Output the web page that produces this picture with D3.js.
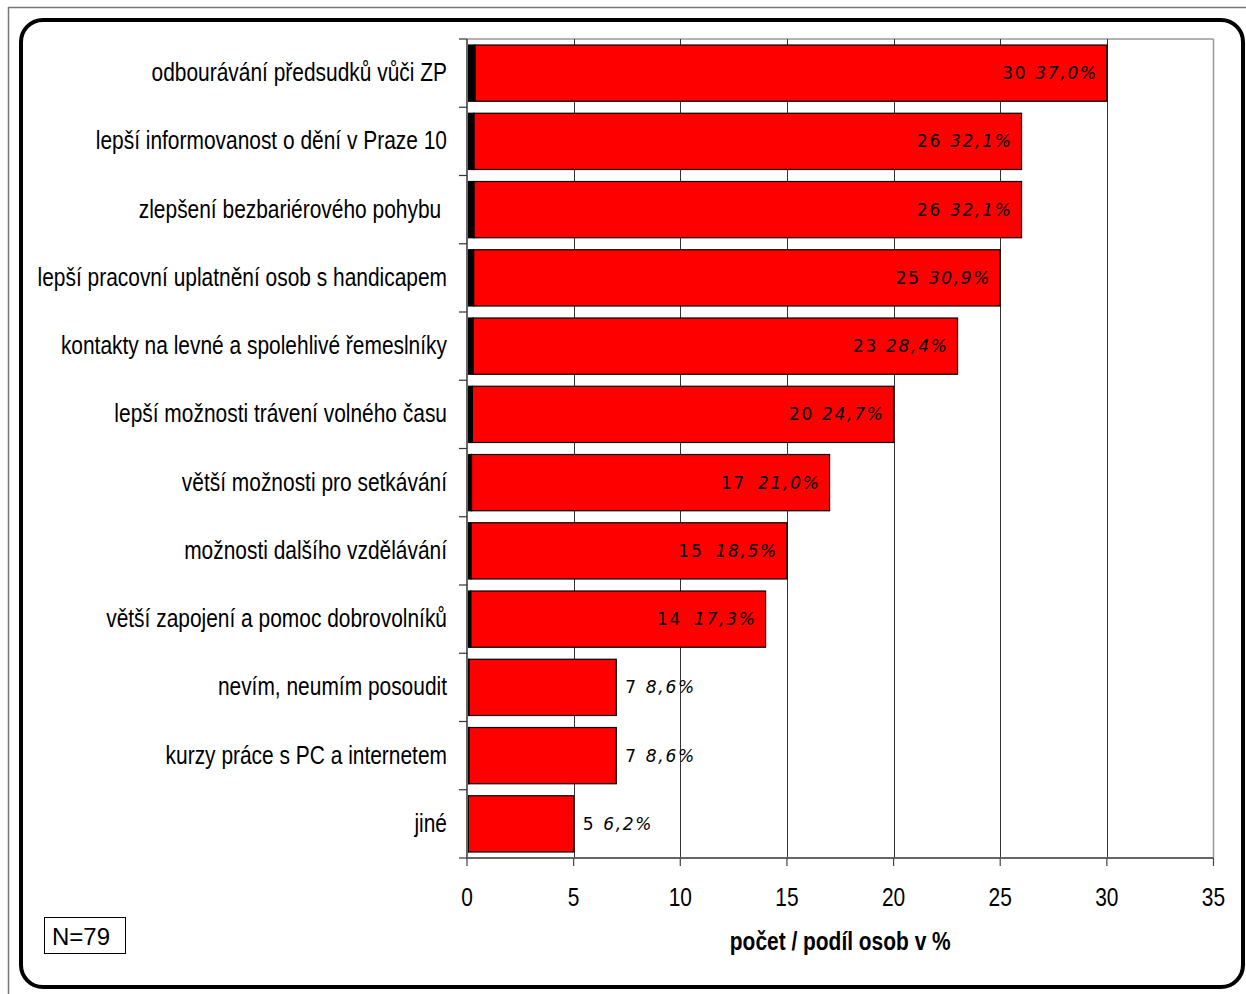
<!DOCTYPE html>
<html><head><meta charset="utf-8">
<script src="https://cdn.jsdelivr.net/npm/d3@7"></script>
<style>
html,body{margin:0;padding:0;background:#fff;}
svg{display:block;}
.cat{font-family:"Liberation Sans Narrow","Arial Narrow","Liberation Sans",sans-serif;font-size:26px;fill:#000;white-space:pre;}
.tick{font-family:"Liberation Sans Narrow","Arial Narrow","Liberation Sans",sans-serif;font-size:26px;fill:#000;}
.title{font-family:"Liberation Sans Narrow","Arial Narrow","Liberation Sans",sans-serif;font-size:26px;font-weight:bold;fill:#000;}
.val{font-family:"DejaVu Sans",Verdana,sans-serif;font-size:17px;fill:#000;letter-spacing:1.7px;}
</style></head>
<body>
<svg id="chart" width="1246" height="994"></svg>
<script>
const categories = [
  "odbourávání předsudků vůči ZP",
  "lepší informovanost o dění v Praze 10",
  "zlepšení bezbariérového pohybu ",
  "lepší pracovní uplatnění osob s handicapem",
  "kontakty na levné a spolehlivé řemeslníky",
  "lepší možnosti trávení volného času",
  "větší možnosti pro setkávání",
  "možnosti dalšího vzdělávání",
  "větší zapojení a pomoc dobrovolníků",
  "nevím, neumím posoudit",
  "kurzy práce s PC a internetem",
  "jiné"
];
const counts = [30, 26, 26, 25, 23, 20, 17, 15, 14, 7, 7, 5];
const percents = [37.0, 32.1, 32.1, 30.9, 28.4, 24.7, 21.0, 18.5, 17.3, 8.6, 8.6, 6.2];
const blackShare = [0.370, 0.321, 0.321, 0.309, 0.284, 0.247, 0.210, 0.185, 0.173, 0.086, 0.086, 0.062];
const xTicks = [0, 5, 10, 15, 20, 25, 30, 35];
const axisTitle = "počet / podíl osob v %";
const noteText = "N=79";

const narrow = 0.805; // horizontal compression to mimic a condensed face

const svg = d3.select("#chart");

// outer thin frame
svg.append("line").attr("x1",8).attr("y1",7.5).attr("x2",1246).attr("y2",7.5).attr("stroke","#777").attr("stroke-width",1.5);
svg.append("line").attr("x1",8.5).attr("y1",7).attr("x2",8.5).attr("y2",994).attr("stroke","#777").attr("stroke-width",1.5);
// rounded frame
svg.append("rect").attr("x",21).attr("y",20).attr("width",1222).attr("height",967).attr("rx",22).attr("ry",22)
  .attr("fill","#fff").attr("stroke","#000").attr("stroke-width",4);

const pLeft = 467, pRight = 1213.5, pTop = 39, pBottom = 858;
const x = d3.scaleLinear().domain([0, 35]).range([pLeft, pRight]);
const y = d3.scaleBand().domain(categories).range([pTop, pBottom]).paddingInner(0.176).paddingOuter(0.088);
const step = y.step();

// plot border (top & right)
svg.append("line").attr("x1",pLeft).attr("x2",pRight).attr("y1",pTop).attr("y2",pTop).attr("stroke","#999").attr("stroke-width",1.5);
svg.append("line").attr("x1",pRight).attr("x2",pRight).attr("y1",pTop).attr("y2",pBottom).attr("stroke","#999").attr("stroke-width",1.5);

// gridlines
svg.append("g").selectAll("line").data(xTicks.filter(t => t > 0 && t < 35)).join("line")
  .attr("x1", d => Math.round(x(d)) + 0.5).attr("x2", d => Math.round(x(d)) + 0.5)
  .attr("y1", pTop).attr("y2", pBottom).attr("stroke","#333").attr("stroke-width",1);

// bars
const g = svg.append("g");
categories.forEach((c, i) => {
  const by = y(c), bh = y.bandwidth();
  g.append("rect").attr("x", x(blackShare[i])).attr("y", by).attr("width", x(counts[i]) - x(blackShare[i])).attr("height", bh)
    .attr("fill","#ff0000").attr("stroke","#000").attr("stroke-width",1.2);
  g.append("rect").attr("x", x(0)).attr("y", by).attr("width", x(blackShare[i]) - x(0)).attr("height", bh)
    .attr("fill","#000").attr("stroke","#000").attr("stroke-width",1.2);
});

// value labels
const fmt = v => v.toFixed(1).replace(".", ",") + "%";
categories.forEach((c, i) => {
  const inside = counts[i] >= 10;
  const cy = y(c) + y.bandwidth() / 2;
  const t = svg.append("text").attr("class","val")
    .attr("x", inside ? x(counts[i]) - 9 : x(counts[i]) + 9)
    .attr("y", cy + 6)
    .attr("text-anchor", inside ? "end" : "start");
  t.append("tspan").text(counts[i]);
  t.append("tspan").attr("font-style","italic").attr("dx", inside && counts[i] < 20 ? 12 : 8).text(fmt(percents[i]));
});

// axes lines
svg.append("line").attr("x1",pLeft).attr("x2",pLeft).attr("y1",pTop).attr("y2",pBottom).attr("stroke","#666").attr("stroke-width",2);
svg.append("line").attr("x1",pLeft - 1).attr("x2",pRight).attr("y1",pBottom).attr("y2",pBottom).attr("stroke","#666").attr("stroke-width",2);

// y ticks at band boundaries
const bounds = d3.range(categories.length + 1).map(k => pTop + k * step);
svg.append("g").selectAll("line").data(bounds).join("line")
  .attr("x1", pLeft - 8).attr("x2", pLeft).attr("y1", d => d).attr("y2", d => d)
  .attr("stroke","#333").attr("stroke-width",1.2);

// category labels
svg.append("g").selectAll("text").data(categories).join("text")
  .attr("class","cat")
  .attr("transform", d => `translate(${pLeft - 20},${y(d) + y.bandwidth() / 2 + 8}) scale(${narrow},1)`)
  .attr("text-anchor","end")
  .text(d => d);

// x ticks
svg.append("g").selectAll("line").data(xTicks).join("line")
  .attr("x1", d => x(d)).attr("x2", d => x(d)).attr("y1", pBottom).attr("y2", pBottom + 8)
  .attr("stroke","#444").attr("stroke-width",1.2);
svg.append("g").selectAll("text").data(xTicks).join("text")
  .attr("class","tick")
  .attr("transform", d => `translate(${x(d)},906) scale(${narrow},1)`)
  .attr("text-anchor","middle").text(d => d);

// axis title
svg.append("text").attr("class","title")
  .attr("transform", `translate(${(pLeft + pRight) / 2},950) scale(${narrow},1)`)
  .attr("text-anchor","middle").text(axisTitle);

// N box
svg.append("rect").attr("x",44.5).attr("y",917.5).attr("width",81).attr("height",36).attr("fill","#fff").attr("stroke","#000").attr("stroke-width",1);
svg.append("text").attr("x",52).attr("y",945).attr("font-family","Liberation Sans, Arial, sans-serif").attr("font-size",24).text(noteText);
</script>
</body></html>
